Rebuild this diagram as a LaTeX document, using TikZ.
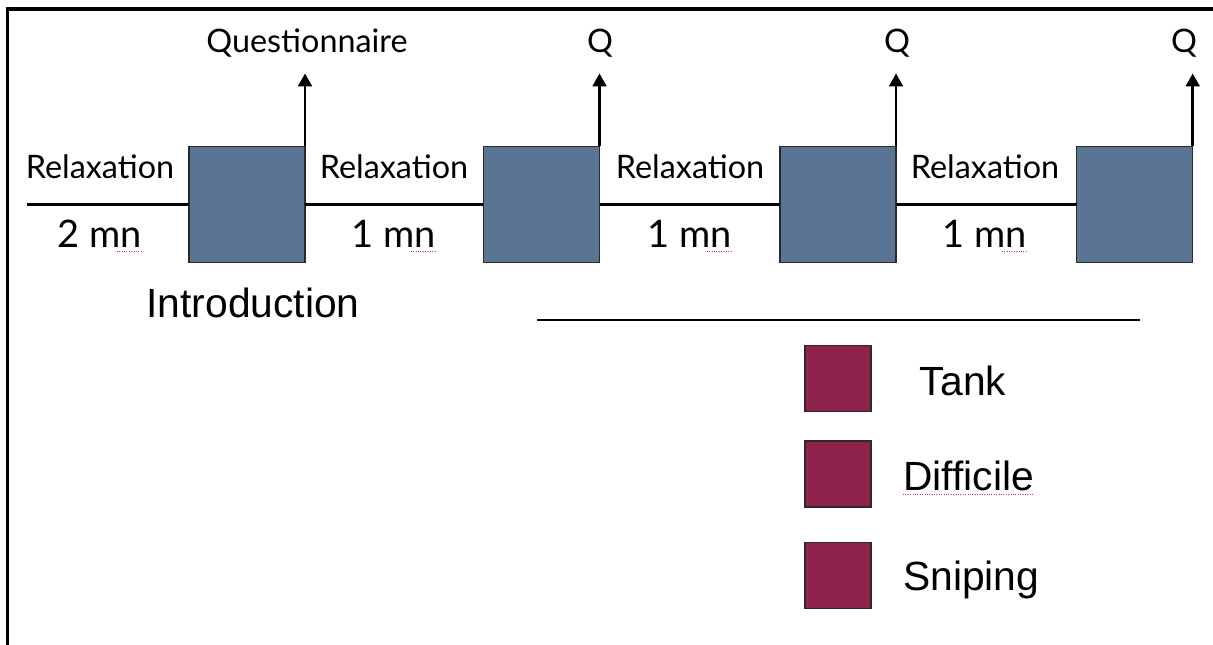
\documentclass[tikz,border=0pt]{standalone}
\usepackage{fontspec}
\setmainfont{Liberation Sans}
\newfontfamily\gillfont{Lato}
\usetikzlibrary{arrows.meta,positioning}
\definecolor{phaseblue}{HTML}{5A7494}
\definecolor{gamered}{HTML}{8E244B}
\definecolor{edgegray}{HTML}{2A2A2A}
\definecolor{spellred}{HTML}{E03030}

\begin{document}
\begin{tikzpicture}[
  x=0.025cm,y=-0.025cm,
  phase/.style={draw=edgegray,fill=phaseblue,line width=1.1pt,
                minimum size=2.9cm,inner sep=0pt,outer sep=0pt},
  game/.style={draw=edgegray,fill=gamered,line width=1.1pt,
               minimum size=1.65cm,inner sep=0pt,outer sep=0pt},
  tlabel/.style={font=\gillfont\fontsize{23}{27}\selectfont,inner sep=0pt,anchor=base},
  minlabel/.style={font=\gillfont\fontsize{27}{32}\selectfont,inner sep=0pt,anchor=base},
  biglabel/.style={font=\fontsize{29}{34}\selectfont,inner sep=0pt},
  timeline/.style={line width=2pt},
  qarrow/.style={-{Triangle[length=3.2mm,width=3.4mm]},line width=2pt},
  squiggle/.style={spellred,line width=0.7pt,densely dotted}
]
\useasboundingbox (0,0) rectangle (1213,645);
% frame
\draw[line width=2.5pt] (7.5,645) -- (7.5,9) -- (1213,9);

% phases and questionnaires
\foreach \k/\x in {1/247,2/541.5,3/838,4/1134.7} {
  \node[phase] (b\k) at (\x,204.5) {};
  \path (b\k.north east) ++(0,-73) coordinate (t\k);
  \draw[qarrow] (b\k.north east) -- (t\k);
}
\node[tlabel] (q1) at (307,52) {Questionnaire};
\node[tlabel] (q2) at (600,52) {Q};
\node[tlabel] (q3) at (897,52) {Q};
\node[tlabel] (q4) at (1184,52) {Q};

% relaxation periods
\coordinate (start) at (27,204.5);
\draw[timeline] (start) -- (b1.west);
\draw[timeline] (b1.east) -- (b2.west);
\draw[timeline] (b2.east) -- (b3.west);
\draw[timeline] (b3.east) -- (b4.west);
\foreach \k/\x/\d in {1/100/2,2/394/1,3/690/1,4/985/1} {
  \node[tlabel] (r\k) at (\x,178) {Relaxation};
  \node[minlabel] (d\k) at (\x,247) {\d\ mn};
  \draw[squiggle] ([xshift=12pt,yshift=-3pt]d\k.base) -- ([yshift=-3pt]d\k.base east);
}

\node[biglabel,anchor=base] (intro) at (253,317) {Introduction};
\draw[line width=2pt] (537,320) -- (1140,320);

% legend
\node[game] (g1) at (838,378.5) {};
\node[game] (g2) at (838,474) {};
\node[game] (g3) at (838,575.5) {};
\node[biglabel,anchor=base] (l1) at (963,395) {Tank};
\node[biglabel,anchor=base west] (l2) at (903,490) {Difficile};
\node[biglabel,anchor=base west] (l3) at (903,590) {Sniping};
\draw[squiggle] ([yshift=-3pt]l2.base west) -- ([yshift=-3pt]l2.base east);
\end{tikzpicture}
\end{document}
